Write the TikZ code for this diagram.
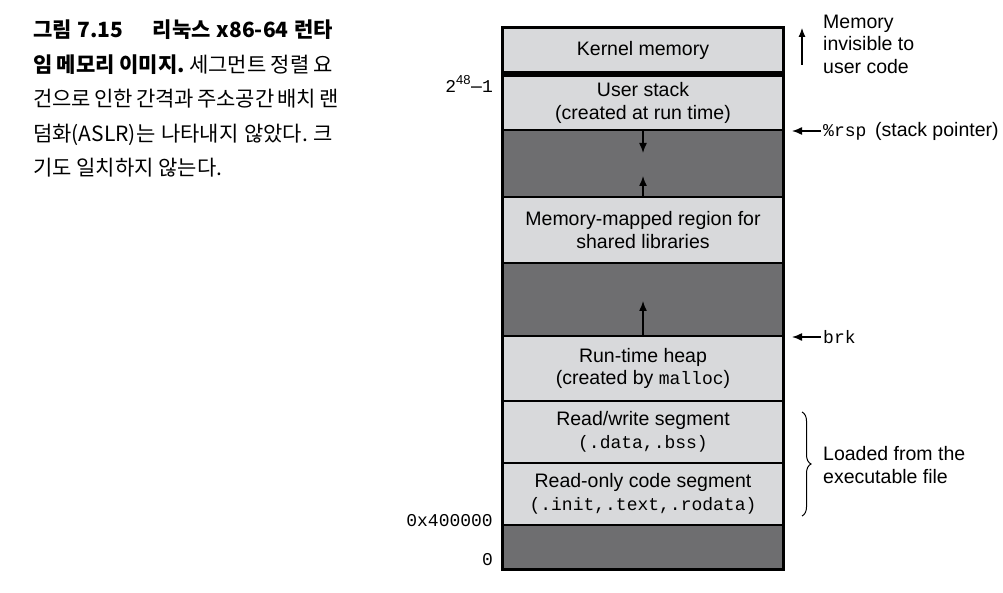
\documentclass[tikz,border=0pt]{standalone}
\usepackage{fontspec}
\setmainfont{Liberation Sans}
\newfontfamily\kr{Noto Sans CJK KR}
\newfontfamily\mono{Liberation Mono}
\usetikzlibrary{arrows.meta,decorations.pathreplacing}
\definecolor{lightfill}{RGB}{216,217,219}
\definecolor{darkfill}{RGB}{110,110,112}
\newcommand{\mtt}[1]{{\mono\fontsize{18}{20}\selectfont #1}}
\frenchspacing
\begin{document}
\begin{tikzpicture}[x=1pt,y=-1pt,
  seg/.style={rectangle,draw=black,line width=1.4pt,minimum width=280pt,inner sep=0pt,
    font=\fontsize{19.5}{22.5}\selectfont,align=center},
  light/.style={seg,fill=lightfill},
  dark/.style={seg,fill=darkfill},
  arr/.style={line width=1.4pt,-{Latex[length=10pt,width=8pt]}},
  note/.style={font=\fontsize{19.5}{22.5}\selectfont,align=left,inner sep=0pt},
  addr/.style={font=\fontsize{19.5}{22}\selectfont,inner sep=0pt}
]
\useasboundingbox (0,0) rectangle (1003,593);

% caption
\node[anchor=north west,inner sep=0pt,align=left,font=\kr\fontsize{21}{34.5}\selectfont] (caption) at (33,20)
{\makebox[300pt][s]{\textbf{그림 7.15\hspace{1.4em}리눅스 x86-64 런타}}\\
 \makebox[300pt][s]{\textbf{임 메모리 이미지.} 세그먼트 정렬 요}\\
 \makebox[300pt][s]{건으로 인한 간격과 주소공간 배치 랜}\\
 \makebox[300pt][s]{덤화(ASLR)는 나타내지 않았다. 크}\\
 기도 일치하지 않는다.};

% memory segments
\node[light,minimum height=44pt] (kernel) at (643,50) {Kernel memory};
\node[light,minimum height=54pt] (stack) at (643,103) {User stack\\(created at run time)};
\node[dark,minimum height=67pt] (gap1) at (643,163.5) {};
\node[light,minimum height=66pt] (mmap) at (643,230) {Memory-mapped region for\\shared libraries};
\node[dark,minimum height=73pt] (gap2) at (643,299.5) {};
\node[light,minimum height=65pt] (heap) at (643,368.5) {Run-time heap\\(created by \mtt{malloc})};
\node[light,minimum height=62pt] (rw) at (643,432) {Read/write segment\\\mtt{(.data,.bss)}};
\node[light,minimum height=62pt] (ro) at (643,494) {Read-only code segment\\\mtt{(.init,.text,.rodata)}};
\node[dark,minimum height=44pt] (bottom) at (643,547) {};

\draw[line width=4pt] ([yshift=-2pt]kernel.south west) -- ([yshift=-2pt]kernel.south east);
\draw[line width=2pt] (kernel.north west) rectangle (bottom.south east);

% growth arrows
\coordinate (stackdown) at (643,153);
\coordinate (mmapup) at (643,176);
\coordinate (heapup) at (643,301);
\draw[arr] (stack.south) -- (stackdown);
\draw[arr] (mmap.north) -- (mmapup);
\draw[arr] (heap.north) -- (heapup);

% left addresses
\node[addr,anchor=east] (top) at (493,84) {\mtt{2}\textsuperscript{\fontsize{13}{13}\selectfont 48}\textendash\mtt{1}};
\node[addr,anchor=east] (base) at (493,521) {\mtt{0x400000}};
\node[addr,anchor=east] (zero) at (493,560) {\mtt{0}};

% right annotations
\coordinate (kbot) at (802,65);
\coordinate (ktop) at (802,28);
\draw[line width=1.1pt,-{Latex[length=9pt,width=7pt]}] (kbot) -- (ktop);
\node[note,anchor=west] (invis) at (823,44) {Memory\\invisible to\\user code};

\node[note,anchor=west] (rsp) at (823,131) {\mtt{\%rsp}\, (stack pointer)};
\coordinate (rsptip) at (792,131);
\draw[arr] ([xshift=-2pt]rsp.west) -- (rsptip);

\node[note,anchor=west] (brk) at (823,337) {\mtt{brk}};
\coordinate (brktip) at (792,337);
\draw[arr] ([xshift=-2pt]brk.west) -- (brktip);

\coordinate (bracetop) at (802,412);
\coordinate (bracebot) at (802,516);
\draw[line width=1pt,decorate,decoration={brace,amplitude=9pt}] (bracetop) -- (bracebot);
\node[note,anchor=west] (loaded) at (823,465) {Loaded from the\\executable file};
\end{tikzpicture}
\end{document}
